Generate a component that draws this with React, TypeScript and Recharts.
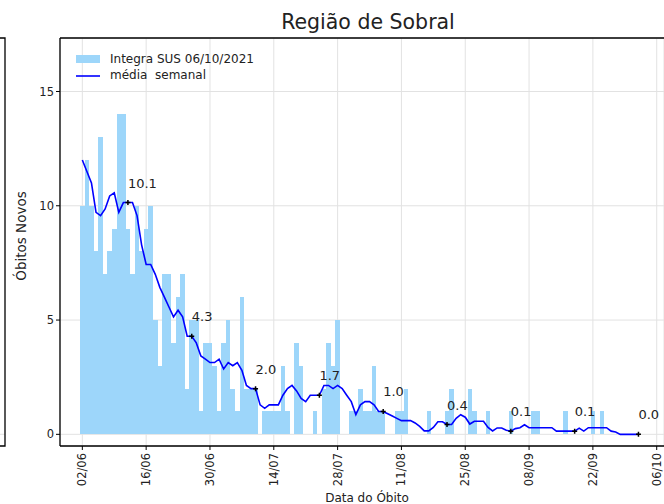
import { ComposedChart, Bar, Line, XAxis, YAxis, CartesianGrid, ReferenceLine } from "recharts";

// óbitos diários a partir de 02/06 (dia 0) até 02/10
const obitos = [
  10, 12, 10, 8, 13, 7, 8, 9, 14, 14,
  9, 7, 10, 8, 9, 10, 5, 3, 7, 7,
  4, 6, 7, 2, 5, 5, 1, 4, 4, 3,
  1, 4, 5, 2, 1, 6, 2, 2, 2, 0,
  1, 1, 1, 1, 3, 1, 0, 4, 3, 0,
  0, 1, 0, 2, 4, 3, 5, 0, 0, 1,
  1, 2, 1, 1, 3, 1, 1, 0, 0, 1,
  1, 2, 0, 0, 0, 0, 1, 0, 0, 0,
  1, 2, 0, 0, 0, 2, 1, 0, 0, 1,
  0, 0, 0, 0, 1, 0, 0, 0, 0, 1,
  1, 0, 0, 0, 0, 0, 1, 0, 0, 0,
  0, 0, 1, 0, 1, 0, 0, 0, 0, 0,
  0, 0, 0,
];

const media = [
  12.0, 11.5, 11.0, 9.71, 9.57, 9.86, 10.43, 10.57, 9.71, 10.14,
  10.14, 10.14, 9.57, 8.29, 7.43, 7.43, 7.0, 6.43, 6.0, 5.57,
  5.14, 5.43, 5.14, 4.29, 4.29, 4.0, 3.43, 3.29, 3.14, 3.14,
  3.29, 2.86, 3.14, 3.0, 3.14, 2.8, 2.14, 2.0, 2.0, 1.29,
  1.14, 1.29, 1.29, 1.29, 1.71, 2.0, 2.14, 1.9, 1.57, 1.43,
  1.71, 1.71, 1.71, 2.14, 2.14, 2.0, 2.14, 2.0, 1.71, 1.43,
  0.86, 1.29, 1.43, 1.43, 1.29, 1.0, 1.0, 0.9, 0.8, 0.7,
  0.6, 0.6, 0.6, 0.5, 0.35, 0.15, 0.15, 0.3, 0.55, 0.55,
  0.43, 0.43, 0.7, 0.86, 0.75, 0.45, 0.57, 0.57, 0.57, 0.3,
  0.15, 0.28, 0.28, 0.18, 0.14, 0.25, 0.29, 0.42, 0.29, 0.29,
  0.29, 0.29, 0.29, 0.29, 0.14, 0.14, 0.14, 0.14, 0.14, 0.27,
  0.14, 0.29, 0.29, 0.29, 0.29, 0.29, 0.14, 0.1, 0, 0,
  0, 0, 0,
];

const diasTick = [0, 14, 28, 42, 56, 70, 84, 98, 112, 126];
const rotulosData = ["02/06", "16/06", "30/06", "14/07", "28/07", "11/08", "25/08", "08/09", "22/09", "06/10"];
const yTicks = [0, 5, 10, 15];

const marcos = [10, 24, 38, 52, 66, 80, 94, 108, 122];
const rotulos = ["10.1", "4.3", "2.0", "1.7", "1.0", "0.4", "0.1", "0.1", "0.0"];

const dados = obitos.map((v, i) => ({ dia: i, obitos: v, media: media[i] }));

const fonte = "'DejaVu Sans', sans-serif";
const corBarra = "#9dd6fa";
const corTexto = "#222";

function TickData(props: any) {
  const { x, y, payload } = props;
  const i = diasTick.indexOf(payload.value);
  const yy = y + 1;
  return (
    <text
      x={x}
      y={yy}
      transform={`rotate(-90 ${x} ${yy})`}
      textAnchor="end"
      dy="0.35em"
      fontSize={11.5}
      fill={corTexto}
      fontFamily={fonte}
    >
      {rotulosData[i]}
    </text>
  );
}

function Barra(props: any) {
  const { x, y, width, height } = props;
  if (!height) return <g />;
  return <rect x={x} y={y} width={width} height={height} fill={corBarra} shapeRendering="crispEdges" />;
}

function marcaDot(p: any) {
  const i = marcos.indexOf(p.index);
  if (i < 0) return <g key={`d${p.index}`} />;
  const { cx, cy } = p;
  return (
    <g key={`d${p.index}`}>
      <path d={`M${cx - 2.5},${cy}H${cx + 2.5}M${cx},${cy - 2.5}V${cy + 2.5}`} stroke="#000" strokeWidth={1.5} />
      <text x={cx} y={cy - 15} fontSize={13} fill={corTexto} fontFamily={fonte}>
        {rotulos[i]}
      </text>
    </g>
  );
}

export default function App() {
  return (
    <div
      style={{
        position: "absolute",
        left: 0,
        top: 0,
        width: 664,
        height: 504,
        overflow: "hidden",
        background: "#fff",
        fontFamily: fonte,
      }}
    >
      <ComposedChart width={664} height={504} data={dados} margin={{ top: 38, right: 0, bottom: 0, left: 0 }}>
        <CartesianGrid stroke="#e2e2e2" />
        <XAxis
          dataKey="dia"
          type="number"
          domain={[-4.9, 127.6]}
          allowDataOverflow
          ticks={diasTick}
          interval={0}
          tick={<TickData />}
          tickSize={4}
          height={58}
          axisLine={{ stroke: "#000", strokeWidth: 1.3 }}
          tickLine={{ stroke: "#000" }}
        />
        <YAxis
          type="number"
          domain={[-0.51, 17.34]}
          allowDataOverflow
          ticks={yTicks}
          interval={0}
          width={60}
          tickSize={4}
          tick={{ fontSize: 11.5, fill: corTexto, fontFamily: fonte }}
          axisLine={{ stroke: "#000", strokeWidth: 1.3 }}
          tickLine={{ stroke: "#000" }}
        />
        <ReferenceLine y={17.34} stroke="#000" strokeWidth={1.3} />
        <Bar dataKey="obitos" barSize={4.55} shape={<Barra />} isAnimationActive={false} />
        <Line
          dataKey="media"
          type="linear"
          stroke="#0000ff"
          strokeWidth={1.6}
          dot={marcaDot}
          activeDot={false}
          isAnimationActive={false}
        />
      </ComposedChart>
      <svg
        width={664}
        height={504}
        style={{ position: "absolute", left: 0, top: 0, pointerEvents: "none" }}
        fontFamily={fonte}
      >
        <line x1={0} x2={5} y1={434.3} y2={434.3} stroke="#e2e2e2" />
        <path d="M0,38H5V446H0" fill="none" stroke="#000" strokeWidth={1.3} />
        <text x={368} y={29} fontSize={20.5} textAnchor="middle" fill={corTexto}>
          Região de Sobral
        </text>
        <text x={367} y={501.5} fontSize={12} textAnchor="middle" fill={corTexto}>
          Data do Óbito
        </text>
        <text x={26} y={236} fontSize={13.5} textAnchor="middle" fill={corTexto} transform="rotate(-90 26 236)">
          Óbitos Novos
        </text>
        <rect x={76} y={55} width={24} height={8} fill={corBarra} />
        <text x={110} y={62.5} fontSize={12} fill={corTexto}>
          Integra SUS 06/10/2021
        </text>
        <line x1={76} x2={100} y1={76} y2={76} stroke="#0000ff" strokeWidth={1.6} />
        <text x={110} y={79} fontSize={12} fill={corTexto} style={{ whiteSpace: "pre" }}>
          média  semanal
        </text>
      </svg>
    </div>
  );
}
